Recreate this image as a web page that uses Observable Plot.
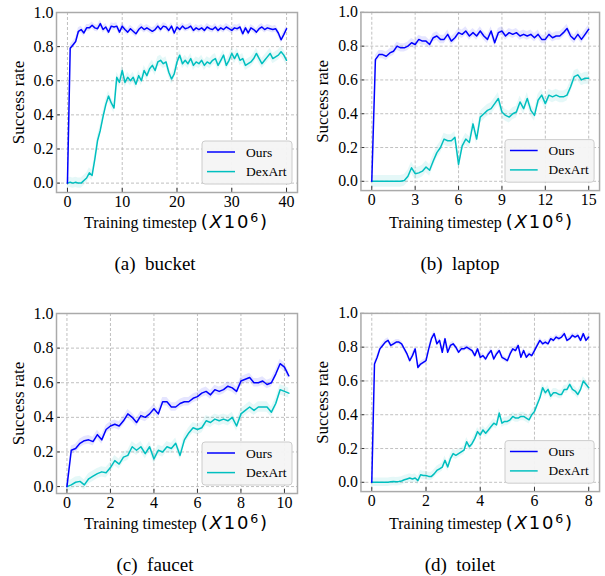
<!DOCTYPE html>
<html><head><meta charset="utf-8">
<script src="https://cdn.jsdelivr.net/npm/d3@7"></script>
<script src="https://cdn.jsdelivr.net/npm/@observablehq/plot@0.6"></script>
<style>
html,body{margin:0;padding:0;background:#fff}
#root{position:relative;width:605px;height:576px;overflow:hidden;background:#fff}
.panel{position:absolute}
.xlabel{position:absolute;white-space:nowrap;font-family:"Liberation Serif","Times New Roman",serif;font-size:16px;line-height:16px;transform:translateX(-50%);color:#000}
.xlabel .m{font-family:"DejaVu Sans",sans-serif;font-size:18px;letter-spacing:1.8px}
.xlabel .m i{font-style:italic}
.xlabel .m sup{font-size:0.7em;line-height:0;vertical-align:0.5em}
.caption{position:absolute;white-space:pre;font-family:"Liberation Serif","Times New Roman",serif;font-size:19px;line-height:19px;transform:translateX(-50%);color:#000}
</style>
</head><body><div id="root"></div>
<script>
// ---- data ----
const yTicks = [0, 0.2, 0.4, 0.6, 0.8, 1.0];
const seriesNames = ["Ours", "DexArt"];
const seriesColors = ["#0000ff", "#00bfbf"];

// (a) bucket, step 0.5 (x 0..40)
const bucketXTicks = [0, 10, 20, 30, 40];
const bucketStep = 0.5;
const bucketOurs = [0.00,0.79,0.81,0.83,0.89,0.90,0.88,0.91,0.91,0.925,
  0.91,0.905,0.935,0.90,0.915,0.885,0.92,0.915,0.92,0.885,
  0.92,0.90,0.885,0.905,0.89,0.875,0.90,0.915,0.90,0.91,
  0.90,0.89,0.90,0.92,0.90,0.92,0.915,0.895,0.92,0.88,
  0.915,0.90,0.92,0.905,0.91,0.92,0.895,0.91,0.90,0.91,
  0.895,0.915,0.905,0.90,0.915,0.895,0.91,0.90,0.915,0.905,
  0.895,0.91,0.905,0.915,0.875,0.91,0.88,0.91,0.90,0.885,
  0.905,0.915,0.90,0.91,0.905,0.90,0.905,0.88,0.84,0.87,
  0.905];
const bucketDex = [0.0,0.005,0.0,0.005,0.0,0.0,0.015,0.03,0.06,0.045,
  0.14,0.25,0.31,0.39,0.46,0.51,0.47,0.44,0.62,0.59,
  0.66,0.59,0.62,0.60,0.62,0.58,0.63,0.60,0.66,0.63,
  0.67,0.69,0.66,0.71,0.72,0.70,0.71,0.65,0.61,0.64,
  0.71,0.75,0.70,0.72,0.70,0.73,0.69,0.71,0.70,0.72,
  0.69,0.71,0.70,0.72,0.73,0.69,0.72,0.75,0.69,0.72,
  0.76,0.73,0.76,0.72,0.73,0.69,0.70,0.71,0.73,0.76,
  0.73,0.70,0.72,0.74,0.76,0.73,0.74,0.75,0.77,0.75,
  0.72];
const bucketSpread = [0.02, 0.03];

// (b) laptop, step 0.25 (x 0..15)
const laptopXTicks = [0, 3, 6, 9, 12, 15];
const laptopStep = 0.25;
const laptopOurs = [0.0,0.72,0.75,0.75,0.74,0.76,0.77,0.80,0.79,0.79,
  0.80,0.82,0.81,0.84,0.83,0.83,0.81,0.85,0.86,0.84,
  0.84,0.87,0.83,0.85,0.88,0.87,0.89,0.86,0.88,0.86,
  0.89,0.86,0.84,0.89,0.82,0.88,0.89,0.86,0.88,0.87,
  0.88,0.86,0.87,0.86,0.87,0.85,0.87,0.84,0.84,0.87,
  0.85,0.86,0.86,0.88,0.905,0.86,0.84,0.87,0.84,0.87,
  0.90];
const laptopDex = [0,0,0,0,0,0,0,0,0,0.005,
  0.03,0.08,0.045,0.05,0.06,0.085,0.065,0.12,0.17,0.20,
  0.25,0.24,0.24,0.26,0.10,0.21,0.25,0.23,0.34,0.25,
  0.38,0.40,0.42,0.43,0.46,0.49,0.41,0.39,0.38,0.40,
  0.41,0.47,0.43,0.49,0.42,0.39,0.48,0.51,0.46,0.51,
  0.50,0.51,0.50,0.50,0.51,0.56,0.62,0.63,0.60,0.61,
  0.61];
const laptopSpread = [0.025, 0.035];

// (c) faucet, step 0.2 (x 0..10.2)
const faucetXTicks = [0, 2, 4, 6, 8, 10];
const faucetStep = 0.2;
const faucetOurs = [0.00,0.21,0.22,0.25,0.265,0.27,0.26,0.30,0.27,0.33,
  0.35,0.36,0.35,0.38,0.42,0.40,0.37,0.41,0.40,0.42,
  0.45,0.42,0.49,0.49,0.46,0.46,0.48,0.49,0.49,0.51,
  0.52,0.54,0.55,0.53,0.56,0.55,0.56,0.58,0.57,0.55,
  0.61,0.62,0.63,0.60,0.60,0.61,0.59,0.60,0.65,0.71,
  0.69,0.64];
const faucetDex = [0.00,0.01,0.025,0.03,0.01,0.045,0.06,0.075,0.085,0.08,
  0.11,0.15,0.13,0.17,0.18,0.23,0.21,0.23,0.19,0.23,
  0.16,0.21,0.20,0.23,0.22,0.25,0.18,0.27,0.31,0.34,
  0.33,0.34,0.38,0.37,0.39,0.38,0.39,0.38,0.40,0.35,
  0.42,0.44,0.46,0.44,0.46,0.46,0.46,0.43,0.48,0.56,
  0.55,0.54];
const faucetSpread = [0.025, 0.03];

// (d) toilet, step 0.1 (x 0..8)
const toiletXTicks = [0, 2, 4, 6, 8];
const toiletStep = 0.1;
const toiletOurs = [0.00,0.70,0.74,0.79,0.81,0.83,0.84,0.81,0.82,0.83,
  0.83,0.82,0.79,0.76,0.72,0.75,0.79,0.68,0.70,0.71,
  0.72,0.79,0.85,0.88,0.82,0.84,0.77,0.85,0.77,0.81,
  0.82,0.80,0.77,0.79,0.79,0.80,0.79,0.78,0.75,0.79,
  0.74,0.75,0.73,0.76,0.78,0.73,0.76,0.78,0.74,0.73,
  0.72,0.76,0.79,0.78,0.81,0.74,0.78,0.74,0.76,0.75,
  0.78,0.81,0.84,0.82,0.83,0.82,0.85,0.84,0.86,0.85,
  0.86,0.88,0.84,0.85,0.87,0.86,0.87,0.84,0.88,0.84,
  0.86];
const toiletDex = [0,0,0,0,0,0,0,0.003,0.005,0.003,
  0.005,0.008,0.015,0.02,0.025,0.02,0.025,0.01,0.045,0.04,
  0.04,0.035,0.035,0.05,0.07,0.08,0.09,0.13,0.09,0.14,
  0.17,0.16,0.17,0.18,0.19,0.24,0.21,0.23,0.26,0.30,
  0.28,0.31,0.29,0.31,0.33,0.35,0.34,0.41,0.35,0.36,
  0.36,0.37,0.39,0.38,0.38,0.39,0.39,0.38,0.37,0.40,
  0.42,0.46,0.50,0.56,0.53,0.55,0.51,0.53,0.53,0.52,
  0.52,0.55,0.55,0.58,0.55,0.54,0.52,0.55,0.60,0.58,
  0.56];
const toiletSpread = [0.015, 0.025];

const captions = ["(a)  bucket", "(b)  laptop", "(c)  faucet", "(d)  toilet"];

// ---- layout ----
const FW = 241, FH = 180, ML = 56, MT = 12, MR = 6, MB = 24;
const panels = [
  {left: 0,   top: 0,   xDomain: [-2, 42],      yDomain: [-0.055, 1.0], xTicks: bucketXTicks, step: bucketStep, series: [bucketOurs, bucketDex], spread: bucketSpread, caption: captions[0]},
  {left: 305, top: 0,   xDomain: [-0.75, 15.75], yDomain: [-0.055, 1.0], xTicks: laptopXTicks, step: laptopStep, series: [laptopOurs, laptopDex], spread: laptopSpread, caption: captions[1]},
  {left: 0,   top: 301, xDomain: [-0.48, 10.6],  yDomain: [-0.04, 1.0],  xTicks: faucetXTicks, step: faucetStep, series: [faucetOurs, faucetDex], spread: faucetSpread, caption: captions[2]},
  {left: 305, top: 301, xDomain: [-0.4, 8.4],    yDomain: [-0.055, 1.0], xTicks: toiletXTicks, step: toiletStep, series: [toiletOurs, toiletDex], spread: toiletSpread, caption: captions[3]}
];

const root = document.getElementById("root");
const serif = "'Liberation Serif','Times New Roman',serif";
const grid = {stroke: "#b0b0b0", strokeOpacity: 1, strokeDasharray: "3,2", strokeWidth: 0.8};

for (const p of panels) {
  const data = p.series.map((vals, k) => vals.map((v, i) => ({
    x: +(i * p.step).toFixed(3), y: v, lo: v - p.spread[k], hi: v + p.spread[k], s: seriesNames[k]
  })));
  const chart = Plot.plot({
    width: ML + FW + MR, height: MT + FH + MB,
    marginLeft: ML, marginRight: MR, marginTop: MT, marginBottom: MB,
    style: {fontFamily: serif, fontSize: "16px", background: "transparent", color: "#000", overflow: "visible"},
    x: {domain: p.xDomain, label: null},
    y: {domain: p.yDomain, label: null},
    marks: [
      Plot.gridX(p.xTicks, grid),
      Plot.gridY(yTicks, grid),
      ...data.map((d, k) => Plot.areaY(d, {x: "x", y1: "lo", y2: "hi", fill: seriesColors[k], fillOpacity: 0.1})),
      Plot.lineY(data[1], {x: "x", y: "y", stroke: seriesColors[1], strokeWidth: 1.5}),
      Plot.lineY(data[0], {x: "x", y: "y", stroke: seriesColors[0], strokeWidth: 1.5}),
      Plot.tickX(p.xTicks, {x: d => d, insetTop: FH - 4, stroke: "#333", strokeWidth: 1}),
      Plot.tickY(yTicks, {y: d => d, insetRight: FW - 4, stroke: "#333", strokeWidth: 1}),
      Plot.axisX(p.xTicks, {tickSize: 0, tickPadding: 3, fontSize: 16, label: null}),
      Plot.axisY(yTicks, {tickSize: 0, tickPadding: 3, fontSize: 16, tickFormat: d3.format(".1f"), label: null}),
      Plot.text(["Success rate"], {text: d => d, frameAnchor: "left", dx: -33, rotate: -90, textAnchor: "middle", lineAnchor: "bottom", fontSize: 17}),
      Plot.frame({stroke: "#aaaaaa", strokeWidth: 1.5})
    ]
  });

  // legend
  const svg = d3.select(chart);
  const lw = 90, lh = 43;
  const lx = ML + FW - 5 - lw, ly = MT + FH - 8 - lh;
  const g = svg.append("g").attr("transform", `translate(${lx},${ly})`);
  g.append("rect").attr("width", lw).attr("height", lh).attr("rx", 3)
    .attr("fill", "#f4f4f4").attr("fill-opacity", 0.95).attr("stroke", "#cccccc").attr("stroke-width", 1);
  seriesNames.forEach((name, k) => {
    const yy = 11 + k * 19.6;
    g.append("line").attr("x1", 5).attr("x2", 33).attr("y1", yy).attr("y2", yy)
      .attr("stroke", seriesColors[k]).attr("stroke-width", 1.5);
    g.append("text").attr("x", 44).attr("y", yy + 4.5).attr("font-size", 13.5)
      .attr("text-anchor", "start")
      .attr("font-family", serif).attr("fill", "#000").text(name);
  });

  const div = document.createElement("div");
  div.className = "panel";
  div.style.left = p.left + "px";
  div.style.top = p.top + "px";
  div.appendChild(chart);
  root.appendChild(div);

  const xl = document.createElement("div");
  xl.className = "xlabel";
  xl.style.left = (p.left + ML + FW / 2) + "px";
  xl.style.top = (p.top + 214) + "px";
  xl.innerHTML = 'Training timestep <span class="m">(<i>X</i>10<sup>6</sup>)</span>';
  root.appendChild(xl);

  const cap = document.createElement("div");
  cap.className = "caption";
  cap.style.left = (p.left + 155) + "px";
  cap.style.top = (p.top + 254) + "px";
  cap.textContent = p.caption;
  root.appendChild(cap);
}
</script>
</body></html>
